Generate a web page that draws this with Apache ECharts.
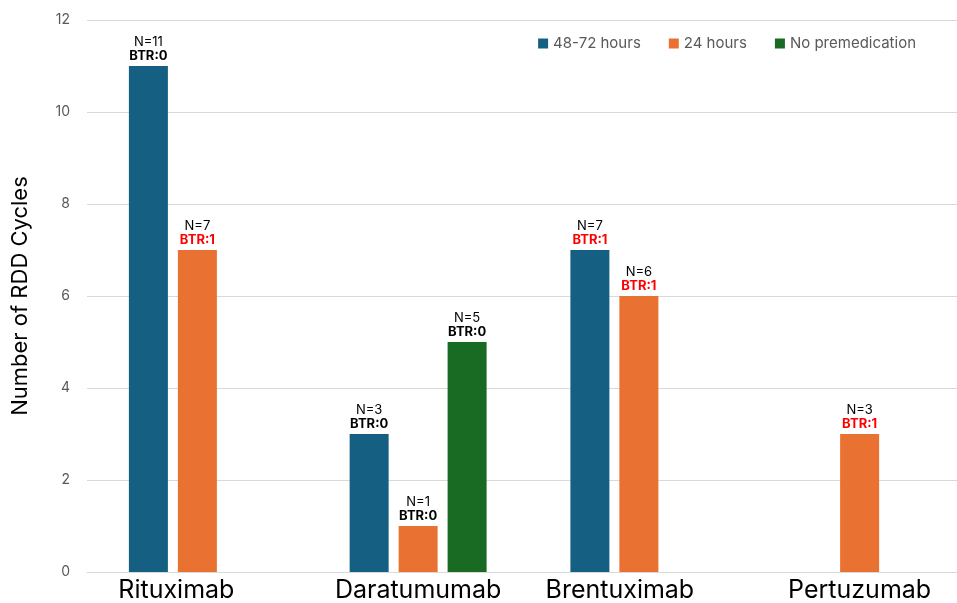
<!DOCTYPE html>
<html>
<head>
<meta charset="utf-8">
<script src="https://cdn.jsdelivr.net/npm/echarts@6/dist/echarts.min.js"></script>
<style>
  html, body { margin: 0; padding: 0; background: #fff; overflow: hidden; }
  #wrap { width: 957px; height: 603px; overflow: hidden; }
  /* plot runs slightly past the right edge of the view */
  #chart { width: 970px; height: 603px; }
</style>
</head>
<body>
<div id="wrap"><div id="chart"></div></div>
<script>
// Drugs on the x axis
const categories = ['Rituximab', 'Daratumumab', 'Brentuximab', 'Pertuzumab'];

// RDD cycle counts per premedication window (null = no bar)
const hours48to72 = [11, 3, 7, null];
const hours24 = [7, 1, 6, 3];
const noPremedication = [null, 5, null, null];

// Breakthrough reactions per bar
const btr48to72 = [0, 0, 1, null];
const btr24 = [1, 0, 1, 1];
const btrNone = [null, 0, null, null];

const seriesNames = ['48-72 hours', '24 hours', 'No premedication'];
const yTicks = [0, 2, 4, 6, 8, 10, 12];

const FONT = 'Inter, "Noto Sans", sans-serif';
const colors = ['#156082', '#E97132', '#196B24'];

// Horizontal nudge for a few axis labels (pixels, negative = left)
const labelNudge = { Rituximab: -21, Brentuximab: -19 };

function barLabel(btrList) {
  return {
    show: true,
    position: 'top',
    distance: 3,
    fontFamily: FONT,
    formatter: function (p) {
      if (p.value == null) return '';
      const b = btrList[p.dataIndex];
      const key = b > 0 ? 'r' : 'k';
      return '{n|N=' + p.value + '}\n{' + key + '|BTR:' + b + '}';
    },
    rich: {
      n: { fontSize: 13, color: '#000', fontFamily: FONT, lineHeight: 14 },
      k: { fontSize: 13, fontWeight: 'bold', color: '#000', fontFamily: FONT, lineHeight: 14 },
      r: { fontSize: 13, fontWeight: 'bold', color: '#FF0000', fontFamily: FONT, lineHeight: 14 }
    }
  };
}

function makeSeries(name, data, btr, color) {
  return {
    name: name,
    type: 'bar',
    data: data,
    barWidth: 39,
    barGap: '25.6%',
    itemStyle: { color: color },
    label: barLabel(btr)
  };
}

const chart = echarts.init(document.getElementById('chart'), null, { renderer: 'canvas' });

const richCats = {};
categories.forEach(function (c, i) {
  const shift = labelNudge[c] || 0;
  richCats['c' + i] = {
    fontSize: 25,
    color: '#000',
    fontFamily: FONT,
    padding: shift < 0 ? [0, -2 * shift, 0, 0] : [0, 0, 0, 2 * shift]
  };
});

chart.setOption({
  backgroundColor: '#fff',
  animation: false,
  color: colors,
  grid: { left: 87, top: 20, right: 0, bottom: 29, containLabel: false },
  legend: {
    top: 31,
    right: 49,
    itemWidth: 10,
    itemHeight: 10,
    itemGap: 28,
    icon: 'rect',
    textStyle: { fontSize: 15, color: '#595959', fontFamily: FONT },
    data: seriesNames
  },
  xAxis: {
    type: 'category',
    data: categories,
    axisLine: { lineStyle: { color: '#D9D9D9' } },
    axisTick: { show: false },
    axisLabel: {
      margin: 6,
      formatter: function (v, i) { return '{c' + i + '|' + v + '}'; },
      rich: richCats
    }
  },
  yAxis: {
    type: 'value',
    min: yTicks[0],
    max: yTicks[yTicks.length - 1],
    interval: yTicks[1] - yTicks[0],
    name: 'Number of RDD Cycles',
    nameLocation: 'middle',
    nameGap: 56,
    nameTextStyle: { fontSize: 22, color: '#000', fontFamily: FONT },
    axisLine: { show: false },
    axisTick: { show: false },
    axisLabel: { margin: 17, fontSize: 14, color: '#595959', fontFamily: FONT },
    splitLine: { lineStyle: { color: '#D9D9D9' } }
  },
  series: [
    makeSeries(seriesNames[0], hours48to72, btr48to72, colors[0]),
    makeSeries(seriesNames[1], hours24, btr24, colors[1]),
    makeSeries(seriesNames[2], noPremedication, btrNone, colors[2])
  ]
});
</script>
</body>
</html>
